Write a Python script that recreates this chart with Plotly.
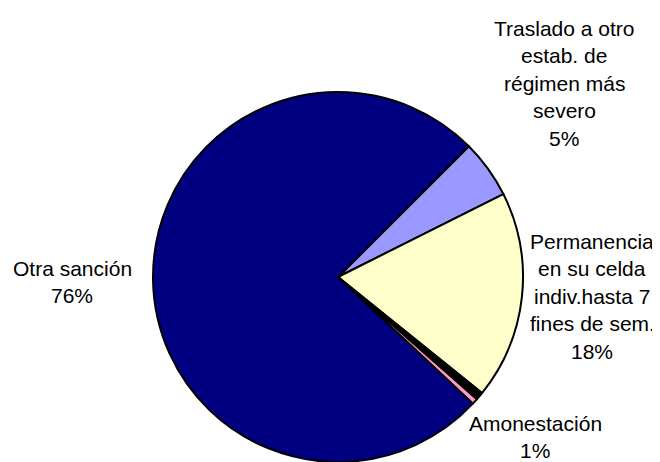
import plotly.graph_objects as go

# Data
categories = [
    "Traslado a otro\nestab. de\nrégimen más\nsevero",
    "Permanencia\nen su celda\nindiv.hasta 7\nfines de sem.",
    "",
    "Amonestación",
    "Otra sanción",
]
values = [5.1, 18.2, 0.7, 0.5, 75.5]
colors = ["#9999FF", "#FFFFCC", "#000000", "#FF99CC", "#000080"]

# layout (window pixel coordinates; page body has an 8px margin)
OFF = 8
WIN_W, WIN_H = 660, 462
W, H = WIN_W - OFF, WIN_H - OFF
CX, CY, R = 338 - OFF, 277 - OFF, 185
label_pos = [(564, 28), (592, 241), None, (535, 423), (72, 268)]
LINE_SP = 27.5

total = sum(values)
pct_text = [f"{int(v / total * 100 + 0.5)}%" for v in values]

fig = go.Figure(
    go.Pie(
        labels=[c if c else "otros" for c in categories],
        values=values,
        marker=dict(colors=colors, line=dict(color="#000000", width=2)),
        sort=False,
        direction="clockwise",
        rotation=45,
        textinfo="none",
        hoverinfo="label+percent",
        domain=dict(x=[(CX - R) / W, (CX + R) / W], y=[1 - (CY + R) / H, 1 - (CY - R) / H]),
        showlegend=False,
    )
)

font = dict(family="Liberation Sans, Arial", size=21, color="#000000")
annotations = []
for cat, pt, pos in zip(categories, pct_text, label_pos):
    if pos is None or not cat:
        continue
    lines = cat.split("\n") + [pt]
    x0, y0 = pos
    for i, ln in enumerate(lines):
        annotations.append(
            dict(
                text=ln,
                x=(x0 - OFF) / W,
                y=1 - (y0 - OFF + i * LINE_SP) / H,
                xref="paper",
                yref="paper",
                xanchor="center",
                yanchor="middle",
                showarrow=False,
                font=font,
            )
        )

fig.update_layout(
    width=W,
    height=H,
    margin=dict(l=0, r=0, t=0, b=0),
    paper_bgcolor="#FFFFFF",
    plot_bgcolor="#FFFFFF",
    annotations=annotations,
)

fig.write_html("out.html")
